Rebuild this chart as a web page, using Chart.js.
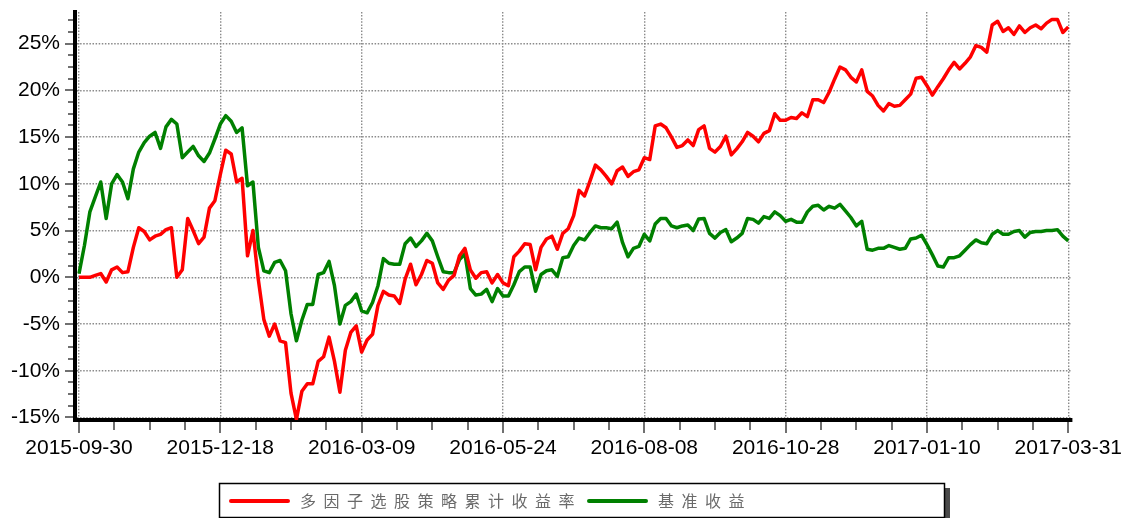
<!DOCTYPE html>
<html><head><meta charset="utf-8">
<script src="https://cdn.jsdelivr.net/npm/chart.js@4/dist/chart.umd.min.js"></script>
<style>html,body{margin:0;padding:0;background:#fff;}canvas{display:block}</style>
</head><body>
<canvas id="c" width="1123" height="518"></canvas>
<script>
// ---- data ----
const tickLabels = ['2015-09-30','2015-12-18','2016-03-09','2016-05-24','2016-08-08','2016-10-28','2017-01-10','2017-03-31'];
const seriesNames = ['多因子选股策略累计收益率','基准收益'];
const yTicks = [-15,-10,-5,0,5,10,15,20,25];

const strategyReturn = [
 0, 0, 0, 0.2, 0.4, -0.5, 0.8, 1.1, 0.5, 0.6,
 3.2, 5.3, 4.9, 4.0, 4.4, 4.6, 5.1, 5.3, 0, 0.8,
 6.3, 5.0, 3.6, 4.3, 7.4, 8.2, 11.0, 13.6, 13.2, 10.2,
 10.6, 2.3, 5.0, -0.3, -4.5, -6.3, -5.0, -6.8, -7.0, -12.4,
 -15.2, -12.2, -11.4, -11.4, -9.0, -8.5, -6.4, -9.0, -12.3, -7.8,
 -5.9, -5.2, -8.0, -6.7, -6.1, -3.0, -1.5, -1.9, -2.0, -2.8,
 -0.2, 1.4, -0.8, 0.3, 1.8, 1.5, -0.6, -1.3, -0.3, 0.2,
 2.3, 3.1, 0.8, -0.1, 0.5, 0.6, -0.6, 0.3, -0.6, -0.9,
 2.2, 2.8, 3.6, 3.5, 0.8, 3.2, 4.1, 4.4, 3.0, 4.7,
 5.2, 6.6, 9.3, 8.7, 10.3, 12.0, 11.5, 10.8, 10.0, 11.4,
 11.8, 10.8, 11.3, 11.5, 12.8, 12.6, 16.2, 16.4, 16.0, 15.0,
 13.9, 14.1, 14.7, 14.1, 15.8, 16.2, 13.8, 13.4, 14.0, 15.1,
 13.1, 13.75, 14.5, 15.5, 15.1, 14.5, 15.4, 15.7, 17.5, 16.8,
 16.8, 17.1, 17.0, 17.6, 17.2, 19.0, 19.0, 18.7, 19.8, 21.2,
 22.5, 22.2, 21.4, 20.9, 22.2, 19.9, 19.4, 18.4, 17.8, 18.6,
 18.3, 18.4, 19.0, 19.6, 21.3, 21.4, 20.5, 19.5, 20.4, 21.25,
 22.2, 23.0, 22.3, 22.9, 23.6, 24.8, 24.6, 24.1, 27.0, 27.4,
 26.3, 26.7, 26.0, 26.9, 26.2, 26.7, 27.0, 26.6, 27.2, 27.6,
 27.6, 26.2, 26.8
];

const benchmarkReturn = [
 0.4, 3.4, 7.0, 8.6, 10.2, 6.3, 10.0, 11.0, 10.2, 8.4,
 11.6, 13.4, 14.4, 15.1, 15.5, 13.8, 16.1, 16.9, 16.4, 12.8,
 13.4, 14.0, 13.0, 12.4, 13.3, 14.8, 16.4, 17.3, 16.7, 15.5,
 16.0, 9.8, 10.2, 3.2, 0.7, 0.5, 1.6, 1.8, 0.7, -3.9,
 -6.8, -4.6, -2.9, -2.9, 0.3, 0.5, 1.7, -0.9, -5.0, -3.0,
 -2.6, -1.8, -3.6, -3.8, -2.7, -0.9, 2.0, 1.5, 1.4, 1.4,
 3.6, 4.2, 3.3, 3.9, 4.7, 3.9, 2.2, 0.6, 0.5, 0.5,
 1.9, 2.5, -1.2, -1.9, -1.8, -1.3, -2.6, -1.2, -2.0, -2.0,
 -0.8, 0.6, 1.1, 1.1, -1.5, 0.3, 0.7, 0.8, 0.1, 2.1,
 2.2, 3.4, 4.2, 4.0, 4.8, 5.5, 5.3, 5.3, 5.2, 5.9,
 3.7, 2.2, 3.1, 3.3, 4.6, 3.9, 5.7, 6.3, 6.3, 5.5,
 5.3, 5.5, 5.6, 5.0, 6.25, 6.3, 4.7, 4.2, 4.8, 5.1,
 3.8, 4.2, 4.7, 6.3, 6.2, 5.8, 6.5, 6.3, 7.0, 6.6,
 6.0, 6.2, 5.9, 5.9, 7.0, 7.6, 7.7, 7.2, 7.6, 7.4,
 7.8, 7.1, 6.4, 5.5, 6.0, 3.0, 2.9, 3.1, 3.1, 3.4,
 3.2, 3.0, 3.1, 4.1, 4.2, 4.5, 3.5, 2.4, 1.2, 1.1,
 2.1, 2.1, 2.3, 2.9, 3.5, 4.0, 3.7, 3.6, 4.6, 5.0,
 4.6, 4.6, 4.9, 5.0, 4.3, 4.8, 4.9, 4.9, 5.0, 5.0,
 5.1, 4.4, 3.9
];

// ---- chart ----
const step = (strategyReturn.length - 1) / (tickLabels.length - 1);
const lastIdx = strategyReturn.length - 1;
const toXY = arr => arr.map((v, i) => ({x: i, y: v}));
const labelFont = {family: '"Liberation Sans", Arial, sans-serif', size: 21};

const decor = {
  id: 'decor',
  afterDraw(chart) {
    const ctx = chart.ctx, xs = chart.scales.x, ys = chart.scales.y, a = chart.chartArea;
    ctx.save();
    ctx.strokeStyle = '#707070';
    ctx.lineWidth = 2;
    for (let v = yTicks[0]; v <= ys.max + 1e-9; v += 1.25) {
      const y = Math.round(ys.getPixelForValue(v));
      const major = Math.abs(v / 5 - Math.round(v / 5)) < 1e-6;
      ctx.beginPath(); ctx.moveTo(a.left - 2, y); ctx.lineTo(a.left - (major ? 10 : 7), y); ctx.stroke();
    }
    for (let k = 0; k <= (tickLabels.length - 1) * 4; k++) {
      const x = Math.round(xs.getPixelForValue(k * step / 4));
      const major = k % 4 === 0;
      ctx.beginPath(); ctx.moveTo(x, a.bottom + 2); ctx.lineTo(x, a.bottom + (major ? 13 : 10)); ctx.stroke();
    }
    // legend box
    const bx = 219, by = 483, bw = 726, bh = 34;
    ctx.fillStyle = '#4a4a4a';
    ctx.fillRect(bx + bw, by + 5, 5, bh + 5);
    ctx.fillStyle = '#fff';
    ctx.fillRect(bx, by, bw, bh);
    ctx.strokeStyle = '#000';
    ctx.lineWidth = 1.5;
    ctx.strokeRect(bx + 0.5, by + 0.5, bw - 1, bh);
    const items = [{lx: 231, tx: 300}, {lx: 589, tx: 658}];
    const ly = 501;
    chart.data.datasets.forEach((ds, i) => {
      const it = items[i];
      ctx.strokeStyle = ds.borderColor;
      ctx.lineWidth = 4;
      ctx.lineCap = 'round';
      ctx.beginPath(); ctx.moveTo(it.lx, ly); ctx.lineTo(it.lx + 57, ly); ctx.stroke();
      ctx.fillStyle = '#6a6a6a';
      ctx.font = '16px "Noto Sans CJK SC", sans-serif';
      ctx.textBaseline = 'middle';
      ctx.textAlign = 'left';
      if ('letterSpacing' in ctx) ctx.letterSpacing = '7.5px';
      ctx.fillText(ds.label, it.tx, ly);
    });
    ctx.restore();
  }
};

new Chart(document.getElementById('c'), {
  type: 'line',
  data: {
    datasets: [
      {label: seriesNames[0], data: toXY(strategyReturn), borderColor: '#ff0000', borderWidth: 3.5, pointRadius: 0, tension: 0, borderJoinStyle: 'round', fill: false},
      {label: seriesNames[1], data: toXY(benchmarkReturn), borderColor: '#008000', borderWidth: 3.5, pointRadius: 0, tension: 0, borderJoinStyle: 'round', fill: false}
    ]
  },
  options: {
    responsive: false,
    animation: false,
    devicePixelRatio: 1,
    layout: {padding: {left: 0, right: 51, top: 12, bottom: 0}},
    plugins: {legend: {display: false}, tooltip: {enabled: false}},
    scales: {
      x: {
        type: 'linear',
        min: -0.736,
        max: lastIdx + 0.68,
        afterBuildTicks: s => { s.ticks = tickLabels.map((_, k) => ({value: k * step})); },
        afterFit: s => { s.height = 98; s.paddingLeft = 0; s.paddingRight = 0; s.paddingTop = 0; s.paddingBottom = 0; },
        ticks: {
          autoSkip: false, maxRotation: 0, padding: 16, color: '#000', font: labelFont,
          callback: (v, i) => tickLabels[i]
        },
        grid: {color: '#8a8a8a', lineWidth: 1.4, drawTicks: false},
        border: {display: true, color: '#000', width: 4, dash: [1.5, 1.6]}
      },
      y: {
        type: 'linear',
        min: -15.27,
        max: 28.39,
        afterBuildTicks: s => { s.ticks = yTicks.map(v => ({value: v})); },
        afterFit: s => { s.width = 75; s.paddingLeft = 0; s.paddingRight = 0; s.paddingTop = 0; s.paddingBottom = 0; },
        ticks: {padding: 15, color: '#000', font: labelFont, callback: v => v + '%'},
        grid: {color: '#8a8a8a', lineWidth: 1.4, drawTicks: false},
        border: {display: true, color: '#000', width: 4, dash: [1.5, 1.6]}
      }
    }
  },
  plugins: [decor]
});
</script>
</body></html>
